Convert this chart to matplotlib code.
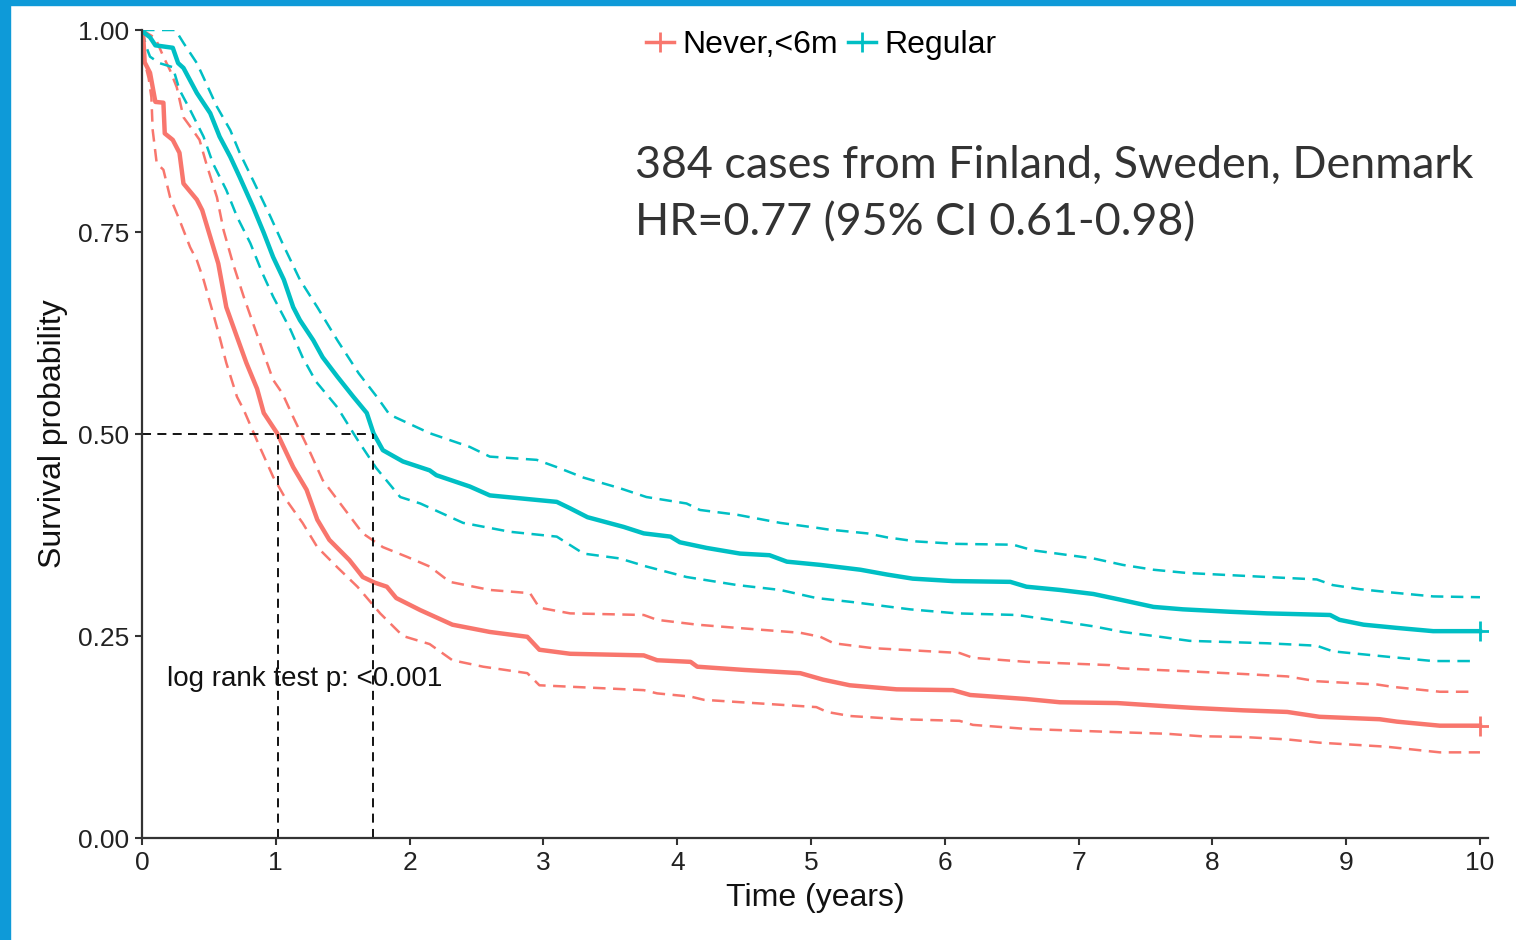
import matplotlib
matplotlib.use("Agg")
import matplotlib.pyplot as plt
from matplotlib.lines import Line2D
from matplotlib.patches import Rectangle

# Kaplan-Meier estimates (time in years, survival prob)
never_t = [0, 0.01, 0.02, 0.06, 0.07, 0.10, 0.16, 0.17, 0.23, 0.28, 0.31, 0.41, 0.45, 0.51, 0.57,
           0.63, 0.71, 0.78, 0.86, 0.91, 1.01, 1.13, 1.23, 1.31, 1.40, 1.55, 1.65, 1.74, 1.83, 1.90,
           2.08, 2.32, 2.60, 2.88, 2.97, 3.20, 3.75, 3.85, 4.10, 4.15, 4.50, 4.92, 5.09, 5.29, 5.64,
           6.06, 6.19, 6.61, 6.86, 7.29, 7.66, 7.86, 8.23, 8.56, 8.80, 9.25, 9.38, 9.70, 10.0]
never_s = [1.0, 0.99, 0.96, 0.947, 0.938, 0.911, 0.91, 0.872, 0.864, 0.848, 0.81, 0.79, 0.777, 0.744, 0.711,
           0.657, 0.62, 0.588, 0.556, 0.526, 0.501, 0.459, 0.431, 0.394, 0.369, 0.344, 0.323, 0.316, 0.311, 0.297,
           0.282, 0.264, 0.255, 0.249, 0.233, 0.228, 0.226, 0.220, 0.218, 0.212, 0.208, 0.204, 0.196, 0.189, 0.184,
           0.183, 0.177, 0.172, 0.168, 0.167, 0.163, 0.161, 0.158, 0.156, 0.150, 0.147, 0.144, 0.139, 0.139]

never_hi_t = [0, 0.10, 0.16, 0.21, 0.26, 0.31, 0.38, 0.43, 0.48, 0.56, 0.61, 0.68, 0.76, 0.83, 0.90,
              0.98, 1.05, 1.13, 1.26, 1.35, 1.50, 1.65, 1.80, 1.98, 2.15, 2.30, 2.60, 2.90, 2.97, 3.20,
              3.75, 3.85, 4.15, 4.45, 4.92, 5.07, 5.17, 5.46, 6.11, 6.21, 6.61, 7.23, 7.31, 7.86, 8.23,
              8.56, 8.78, 9.23, 9.35, 9.70, 9.95]
never_hi_s = [1.0, 0.99, 0.967, 0.950, 0.929, 0.892, 0.876, 0.864, 0.835, 0.793, 0.752, 0.711, 0.670, 0.637, 0.604,
              0.567, 0.550, 0.521, 0.476, 0.443, 0.410, 0.377, 0.360, 0.348, 0.336, 0.317, 0.307, 0.303, 0.285, 0.278,
              0.276, 0.270, 0.264, 0.260, 0.254, 0.249, 0.241, 0.235, 0.229, 0.223, 0.218, 0.214, 0.210, 0.206, 0.203,
              0.200, 0.194, 0.190, 0.187, 0.181, 0.181]

never_lo_t = [0, 0.02, 0.05, 0.07, 0.08, 0.11, 0.16, 0.21, 0.28, 0.36, 0.41, 0.46, 0.53, 0.58, 0.63,
              0.71, 0.76, 0.88, 0.98, 1.08, 1.20, 1.31, 1.46, 1.61, 1.78, 1.95, 2.15, 2.32, 2.55, 2.88,
              2.97, 3.75, 3.85, 4.10, 4.20, 5.04, 5.12, 5.29, 5.67, 6.11, 6.21, 6.61, 7.29, 7.66, 7.91,
              8.23, 8.56, 8.80, 9.30, 9.70, 10.0]
never_lo_s = [1.0, 0.96, 0.94, 0.917, 0.876, 0.835, 0.827, 0.793, 0.765, 0.731, 0.715, 0.691, 0.650, 0.620, 0.588,
              0.546, 0.530, 0.484, 0.447, 0.418, 0.390, 0.360, 0.335, 0.311, 0.278, 0.250, 0.240, 0.220, 0.212, 0.204,
              0.189, 0.183, 0.179, 0.175, 0.171, 0.162, 0.156, 0.151, 0.147, 0.145, 0.140, 0.135, 0.131, 0.129, 0.126,
              0.125, 0.122, 0.118, 0.113, 0.106, 0.106]

reg_t = [0, 0.02, 0.06, 0.10, 0.23, 0.27, 0.31, 0.41, 0.51, 0.58, 0.66, 0.73, 0.83, 0.91, 0.98,
         1.06, 1.13, 1.18, 1.28, 1.35, 1.46, 1.58, 1.68, 1.73, 1.80, 1.95, 2.15, 2.20, 2.45, 2.60,
         2.85, 3.10, 3.20, 3.33, 3.60, 3.75, 3.95, 4.02, 4.22, 4.47, 4.69, 4.82, 5.07, 5.37, 5.57,
         5.76, 6.06, 6.49, 6.61, 6.86, 7.11, 7.31, 7.56, 7.78, 8.13, 8.41, 8.65, 8.88, 8.95, 9.13,
         9.38, 9.65, 10.0]
reg_s = [1.0, 0.996, 0.991, 0.981, 0.978, 0.959, 0.953, 0.922, 0.897, 0.868, 0.843, 0.818, 0.781, 0.749, 0.719,
         0.691, 0.657, 0.641, 0.616, 0.595, 0.571, 0.546, 0.526, 0.501, 0.480, 0.466, 0.455, 0.449, 0.435, 0.424,
         0.420, 0.416, 0.408, 0.397, 0.385, 0.377, 0.373, 0.366, 0.359, 0.352, 0.350, 0.342, 0.338, 0.332, 0.326,
         0.321, 0.318, 0.317, 0.311, 0.307, 0.302, 0.295, 0.286, 0.283, 0.280, 0.278, 0.277, 0.276, 0.270, 0.264,
         0.260, 0.256, 0.256]

reg_hi_t = [0, 0.25, 0.31, 0.41, 0.48, 0.56, 0.66, 0.73, 0.83, 0.96, 1.05, 1.18, 1.31, 1.46, 1.62,
            1.76, 1.85, 2.15, 2.45, 2.60, 2.95, 3.10, 3.30, 3.57, 3.77, 4.07, 4.17, 4.45, 4.77, 5.04,
            5.12, 5.42, 5.57, 5.79, 6.09, 6.51, 6.66, 7.11, 7.33, 7.56, 7.81, 8.41, 8.78, 8.90, 9.10,
            9.33, 9.65, 10.0]
reg_hi_s = [1.0, 1.0, 0.984, 0.959, 0.934, 0.905, 0.876, 0.848, 0.814, 0.769, 0.736, 0.691, 0.657, 0.616, 0.575,
            0.545, 0.524, 0.501, 0.484, 0.472, 0.468, 0.459, 0.446, 0.433, 0.422, 0.414, 0.406, 0.400, 0.390, 0.384,
            0.382, 0.377, 0.372, 0.367, 0.364, 0.363, 0.356, 0.346, 0.338, 0.332, 0.328, 0.323, 0.320, 0.313, 0.308,
            0.304, 0.299, 0.298]

reg_lo_t = [0, 0.03, 0.06, 0.13, 0.23, 0.28, 0.36, 0.46, 0.53, 0.63, 0.71, 0.81, 0.90, 0.98, 1.11,
            1.20, 1.30, 1.46, 1.61, 1.75, 1.93, 2.08, 2.40, 2.75, 3.10, 3.30, 3.57, 3.77, 4.07, 4.45,
            4.77, 5.04, 5.31, 5.74, 6.09, 6.54, 6.79, 7.11, 7.33, 7.61, 7.83, 8.41, 8.78, 8.90, 9.33,
            9.65, 9.93]
reg_lo_s = [1.0, 0.98, 0.967, 0.959, 0.954, 0.926, 0.901, 0.868, 0.835, 0.802, 0.769, 0.736, 0.699, 0.670, 0.629,
            0.595, 0.565, 0.533, 0.493, 0.458, 0.422, 0.414, 0.390, 0.379, 0.373, 0.352, 0.346, 0.336, 0.323, 0.313,
            0.307, 0.297, 0.292, 0.283, 0.278, 0.276, 0.270, 0.262, 0.255, 0.249, 0.244, 0.241, 0.238, 0.231, 0.224,
            0.219, 0.219]

medians = [1.02, 1.73]
group_names = ["Never,<6m", "Regular"]
RED = "#F8766D"
TEAL = "#00BFC4"
AXC = "#333333"

plt.rcParams['font.family'] = ['Liberation Sans', 'DejaVu Sans']

fig = plt.figure(figsize=(15.16, 9.40), dpi=100)
ax = fig.add_axes([142 / 1516, 102 / 940, 1346 / 1516, 808 / 940])

dash = (5, 3)
ax.plot(never_hi_t, never_hi_s, color=RED, lw=1.8, dashes=dash)
ax.plot(never_lo_t, never_lo_s, color=RED, lw=1.8, dashes=dash)
ax.plot(reg_hi_t, reg_hi_s, color=TEAL, lw=1.8, dashes=dash)
ax.plot(reg_lo_t, reg_lo_s, color=TEAL, lw=1.8, dashes=dash)
ax.plot(never_t, never_s, color=RED, lw=3.2)
ax.plot(reg_t, reg_s, color=TEAL, lw=3.2)
# censoring marks at the end of follow-up
ax.plot([never_t[-1]], [never_s[-1]], marker='+', color=RED, ms=14, mew=2)
ax.plot([reg_t[-1]], [reg_s[-1]], marker='+', color=TEAL, ms=14, mew=2)

# median survival lines
ax.plot([0, max(medians)], [0.5, 0.5], color='black', lw=1.3, dashes=(5, 3.5))
for m in medians:
    ax.plot([m, m], [0, 0.5], color='black', lw=1.3, dashes=(5, 3.5))

ax.text(0.19, 0.197, "log rank test p: <0.001", fontsize=20, va='center', ha='left', color='#111111')

ax.set_xlim(0, 10.06)
ax.set_ylim(0, 1.0)
ax.set_xticks(range(0, 11))
ax.set_yticks([0, 0.25, 0.5, 0.75, 1.0])
ax.set_yticklabels(["0.00", "0.25", "0.50", "0.75", "1.00"])
for s in ["top", "right"]:
    ax.spines[s].set_visible(False)
for s in ["left", "bottom"]:
    ax.spines[s].set_color(AXC)
    ax.spines[s].set_linewidth(1.6)
ax.tick_params(direction='out', length=5, width=1.5, color=AXC, labelsize=19, labelcolor='#222222', pad=4)
ax.set_xlabel("Time (years)", fontsize=23, color='#111111')
ax.set_ylabel("Survival probability", fontsize=23, color='#111111')
ax.xaxis.set_label_coords(0.5, -0.056)
ax.yaxis.set_label_coords(-0.055, 0.5)

handles = [Line2D([], [], color=RED, lw=2.5, marker='+', ms=14, mew=2),
           Line2D([], [], color=TEAL, lw=2.5, marker='+', ms=14, mew=2)]
fig.legend(handles, group_names, ncol=2, frameon=False, loc='center',
           bbox_to_anchor=(821 / 1516, 1 - 45 / 940), fontsize=23,
           handlelength=0.9, handletextpad=0.25, columnspacing=0.3)

fig.text(635 / 1516, 1 - 178 / 940, "384 cases from Finland, Sweden, Denmark",
         fontsize=32.3, family='Lato', color='#333333', va='baseline')
fig.text(635 / 1516, 1 - 235 / 940, "HR=0.77 (95% CI 0.61-0.98)",
         fontsize=32.3, family='Lato', color='#333333', va='baseline')

# slide frame
fig.patches.append(Rectangle((0, 0), 10 / 1516, 1, transform=fig.transFigure, color='#0e9ad8', zorder=10))
fig.patches.append(Rectangle((0, 1 - 5 / 940), 1, 5 / 940, transform=fig.transFigure, color='#0e9ad8', zorder=10))

fig.savefig("out.png", dpi=100, facecolor='white')
